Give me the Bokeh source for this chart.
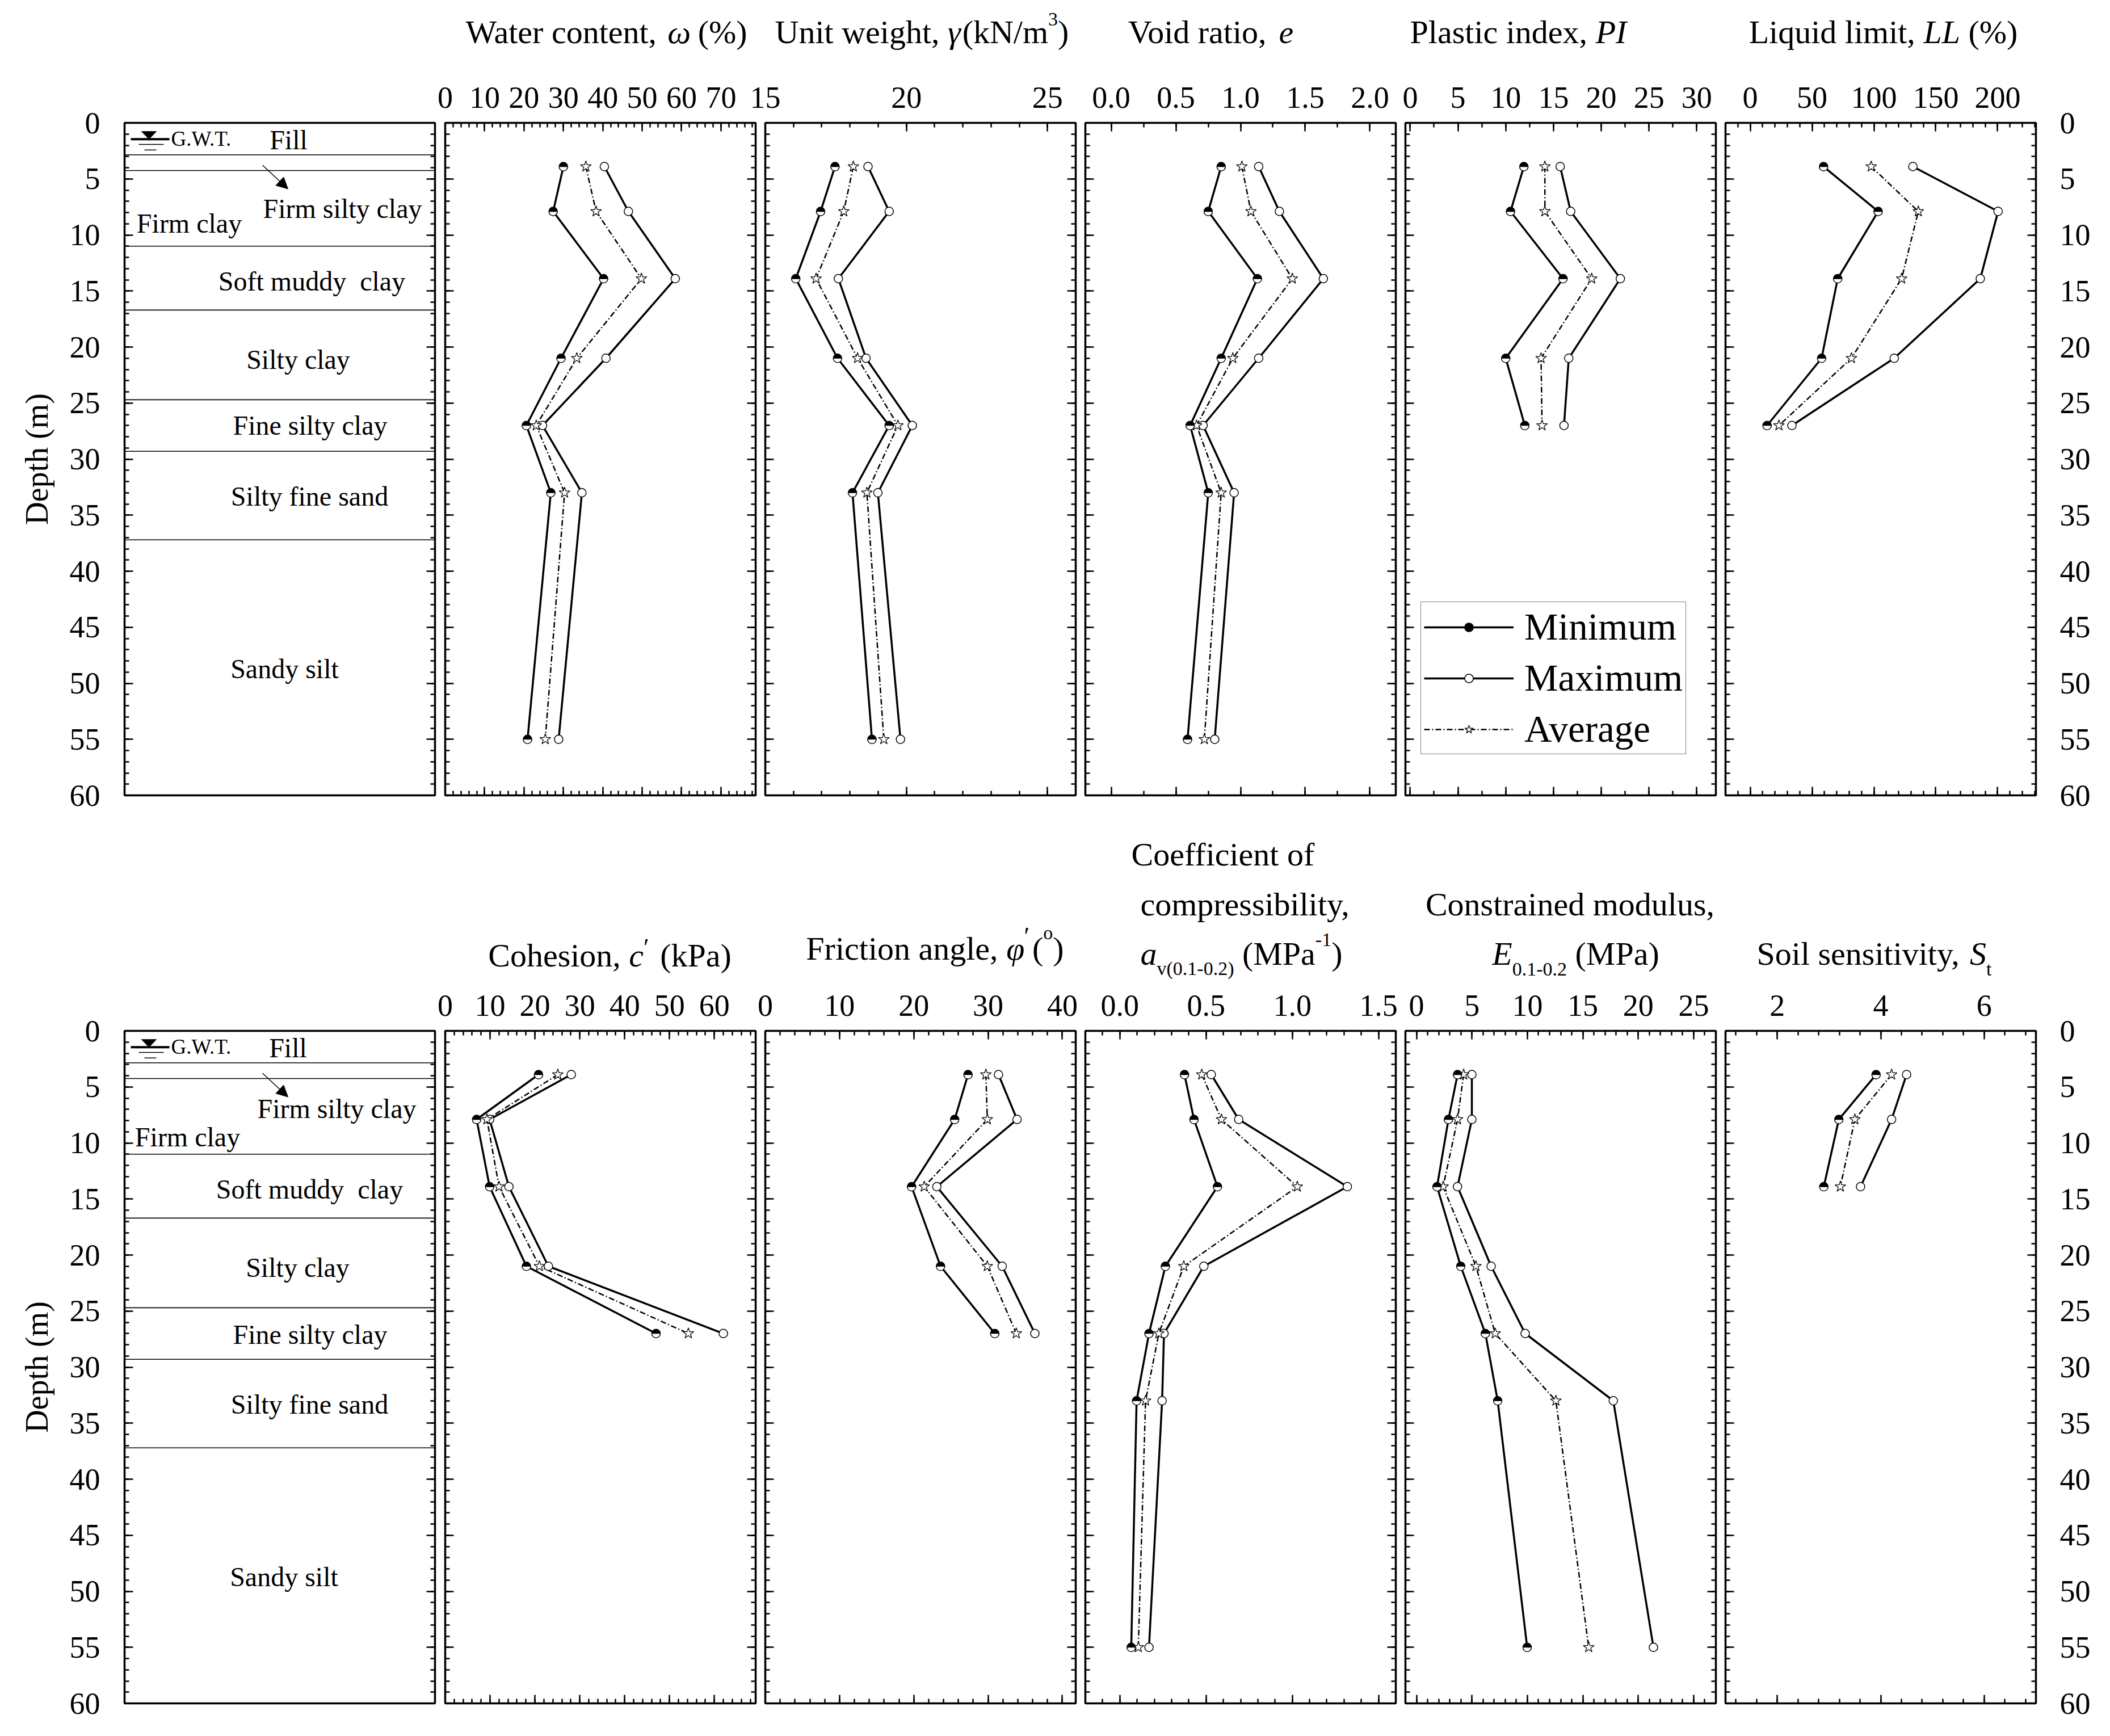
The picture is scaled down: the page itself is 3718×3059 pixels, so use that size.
import numpy as np
from bokeh.plotting import figure
from bokeh.models import (Range1d, LinearAxis, FixedTicker, PrintfTickFormatter, Span,
                          Arrow, NormalHead, Legend, LegendItem)
from bokeh.layouts import row, column
from bokeh.embed import file_html
from bokeh.resources import INLINE
from bokeh.core.properties import value

FONT = "Liberation Serif"

# ------------------------------------------------------------------ data
DEPTH_ALL = [3.9, 7.9, 13.9, 21.0, 27.0, 33.0, 55.0]
DEPTH_5 = [3.9, 7.9, 13.9, 21.0, 27.0]
DEPTH_3 = [3.9, 7.9, 13.9]

WATER_MIN = [30.0, 27.4, 40.2, 29.4, 20.6, 26.8, 20.9]
WATER_AVG = [35.7, 38.3, 49.8, 33.4, 23.1, 30.3, 25.4]
WATER_MAX = [40.4, 46.5, 58.4, 40.8, 24.7, 34.7, 28.8]

UNIT_MIN = [17.47, 16.96, 16.08, 17.56, 19.39, 18.09, 18.78]
UNIT_AVG = [18.12, 17.78, 16.80, 18.27, 19.70, 18.60, 19.20]
UNIT_MAX = [18.64, 19.39, 17.59, 18.57, 20.21, 18.99, 19.79]

VOID_MIN = [0.85, 0.75, 1.13, 0.85, 0.61, 0.75, 0.59]
VOID_AVG = [1.01, 1.08, 1.40, 0.94, 0.66, 0.85, 0.72]
VOID_MAX = [1.14, 1.30, 1.64, 1.14, 0.71, 0.95, 0.80]

PI_MIN = [11.9, 10.5, 16.0, 10.0, 12.0]
PI_AVG = [14.1, 14.1, 19.0, 13.7, 13.8]
PI_MAX = [15.7, 16.8, 22.0, 16.6, 16.1]

LL_MIN = [59.3, 103.4, 70.7, 57.7, 13.6]
LL_AVG = [97.8, 135.9, 122.4, 81.8, 23.2]
LL_MAX = [131.5, 200.4, 186.0, 116.4, 33.7]

COH_MIN = [20.8, 7.0, 9.9, 18.1, 47.0]
COH_AVG = [25.1, 9.3, 12.0, 21.0, 54.2]
COH_MAX = [28.1, 9.9, 14.2, 23.0, 62.0]

FRI_MIN = [27.3, 25.5, 19.7, 23.6, 30.9]
FRI_AVG = [29.7, 29.9, 21.4, 29.9, 33.8]
FRI_MAX = [31.4, 33.9, 23.1, 31.9, 36.3]

AV_MIN = [0.375, 0.43, 0.566, 0.264, 0.169, 0.097, 0.066]
AV_AVG = [0.475, 0.589, 1.029, 0.371, 0.226, 0.149, 0.107]
AV_MAX = [0.53, 0.689, 1.319, 0.487, 0.256, 0.245, 0.169]

ES_MIN = [3.70, 2.88, 1.85, 3.99, 6.21, 7.32, 9.98]
ES_AVG = [4.25, 3.70, 2.40, 5.36, 7.10, 12.57, 15.53]
ES_MAX = [4.99, 4.99, 3.70, 6.73, 9.80, 17.75, 21.37]

ST_MIN = [3.91, 3.19, 2.90]
ST_AVG = [4.21, 3.50, 3.22]
ST_MAX = [4.50, 4.21, 3.61]

# stratigraphy
LAYER_BOUNDS = [2.85, 4.25, 11.0, 16.7, 24.7, 29.3, 37.2]
LAYER_NAMES = ["Fill", "Firm silty clay", "Firm clay", "Soft muddy\u00a0 clay", "Silty clay",
               "Fine silty clay", "Silty fine sand", "Sandy silt"]
LAYER_X_TOP = [289, 384, 114, 330, 306, 327, 326, 282]
LAYER_D_TOP = [1.53, 7.65, 8.97, 14.13, 21.09, 26.97, 33.33, 48.69]
LAYER_X_BOT = [288, 374, 111, 326, 305, 327, 326, 281]
LAYER_D_BOT = [1.53, 6.93, 9.45, 14.13, 21.09, 27.09, 33.33, 48.69]

GWT_TRI_X = [30, 56, 43]
GWT_TRI_Y = [0.77, 0.77, 1.45]
GWT_LINES = [(11, 79, 1.45, 4), (25, 69, 1.93, 1.5), (35, 56, 2.42, 1.5)]

DEPTH_MAJOR = list(range(0, 61, 5))
DEPTH_MINOR = list(range(0, 61))

# ------------------------------------------------------------------ geometry
FW, FH = 547, 1185
OV = 30            # canvas overlap so edge tick labels are not cut
ROW_W = 3697
HDR1_H = 126       # header (titles) above top row
PT_TOP = 90        # panel border above frame (tick labels)
PB = 45            # panel border below frame
HDR2_TOP = HDR1_H + PT_TOP + FH + PB          # 1446
HDR2_H = 1816 - 85 - HDR2_TOP                 # 285
PT_BOT = 85

ROMAN = dict(zip("abcdefghijklmnopqrstuvwxyz",
                 [444, 500, 444, 500, 444, 333, 500, 500, 278, 278, 500, 278, 778, 500, 500,
                  500, 500, 333, 389, 278, 500, 500, 722, 500, 500, 444]))
ROMAN.update(dict(zip("ABCDEFGHIJKLMNOPQRSTUVWXYZ",
                      [722, 667, 667, 722, 611, 556, 722, 722, 333, 389, 722, 611, 889, 722,
                       722, 556, 722, 667, 556, 611, 722, 722, 944, 722, 722, 611])))
ROMAN.update({d: 500 for d in "0123456789"})
ROMAN.update({" ": 250, ",": 250, ".": 250, "(": 333, ")": 333, "%": 833, "/": 278, "-": 333,
              "\u2032": 330, "\u03c9": 690, "\u03b3": 450, "\u03c6": 520})
ITALIC = dict(ROMAN)
ITALIC.update({"a": 500, "c": 444, "e": 444, "t": 278, "v": 444, "E": 611, "L": 556, "P": 611,
               "I": 333, "S": 500, "\u03c9": 670, "\u03b3": 440, "\u03c6": 540})


def tw(s, size, style):
    table = ITALIC if style == "italic" else ROMAN
    return sum(table.get(ch, 500) for ch in s) / 1000.0 * size


def header(y0, h):
    p = figure(frame_width=ROW_W, frame_height=h, x_range=Range1d(0, ROW_W),
               y_range=Range1d(y0 + h, y0), x_axis_location=None, y_axis_location=None,
               toolbar_location=None, output_backend="svg", min_border=0)
    p.grid.visible = False
    p.outline_line_color = None
    p.background_fill_color = "white"
    p.border_fill_color = "white"
    return p


def rich(h, segs, cx, yc):
    """One title line made of styled pieces, centred on page x = cx, vertical position yc."""
    widths = [tw(t, sz, st) for (t, st, sz, dy) in segs]
    x = cx - sum(widths) / 2.0
    for (t, st, sz, dy), w in zip(segs, widths):
        lead = len(t) - len(t.lstrip(" "))
        txt = t.strip(" ")
        if txt:
            h.text(x=[x + tw(t[:lead], sz, st)], y=[yc - dy], text=[txt],
                   text_font=value(FONT), text_font_size=value(f"{sz}px"),
                   text_font_style=value(st), text_color="black", text_align="left",
                   text_baseline="alphabetic")
        x += w


def base_fig(xr, bl, br, bt, bb, margin=None):
    kw = {}
    if margin is not None:
        kw["margin"] = margin
    p = figure(frame_width=FW, frame_height=FH, x_range=Range1d(*xr), y_range=Range1d(60, 0),
               x_axis_location=None, y_axis_location=None, toolbar_location=None,
               output_backend="svg", min_border_left=bl, min_border_right=br,
               min_border_top=bt, min_border_bottom=bb, **kw)
    p.grid.visible = False
    p.outline_line_color = "black"
    p.outline_line_width = 3.5
    p.outline_line_alpha = 1.0
    p.background_fill_color = "white"
    p.border_fill_color = None
    return p


def add_axis(p, loc, major, minor, labels=False, fmt=None, standoff=26, tin=15, mtin=8,
             axis_label=None):
    ax = LinearAxis(ticker=FixedTicker(ticks=major, minor_ticks=minor))
    ax.axis_line_color = None
    ax.major_tick_in = tin
    ax.major_tick_out = 0
    ax.minor_tick_in = mtin
    ax.minor_tick_out = 0
    ax.major_tick_line_width = 2.5
    ax.minor_tick_line_width = 2.5
    ax.major_tick_line_color = "black"
    ax.minor_tick_line_color = "black"
    if labels:
        ax.major_label_text_font = FONT
        ax.major_label_text_font_size = "54px"
        ax.major_label_text_color = "black"
        ax.major_label_standoff = standoff
        if fmt:
            ax.formatter = PrintfTickFormatter(format=fmt)
    else:
        # tick marks only: labels are not drawn at all
        ax.major_label_text_font_size = "1px"
        ax.major_label_text_color = None
        ax.major_label_standoff = 0
    if axis_label:
        ax.axis_label = axis_label
        ax.axis_label_text_font = FONT
        ax.axis_label_text_font_size = "56px"
        ax.axis_label_text_font_style = "normal"
        ax.axis_label_text_color = "black"
        ax.axis_label_standoff = 24
    p.add_layout(ax, loc)
    return ax


def add_series(p, depth, vmin, vavg, vmax):
    lmin = p.line(vmin, depth, line_color="black", line_width=3.5)
    lmax = p.line(vmax, depth, line_color="black", line_width=3.5)
    lavg = p.line(vavg, depth, line_color="black", line_width=2.5, line_dash="10 4 2 4")
    cmax = p.scatter(vmax, depth, marker="circle", size=15, fill_color="white",
                     line_color="black", line_width=1.5)
    cavg = p.scatter(vavg, depth, marker="star", size=20, fill_color="white",
                     line_color="black", line_width=1.3)
    cmin = p.scatter(vmin, depth, marker="circle", size=15, fill_color="black",
                     line_color="black", line_width=1.5)
    p.wedge(vmin, depth, radius=7.5, radius_units="screen", start_angle=np.pi,
            end_angle=2 * np.pi, fill_color="white", line_color="black", line_width=1.2)
    return lmin, lmax, lavg, cmin, cmax, cavg


def make_strat(top_border, xs, ds):
    p = base_fig((0, FW), 219, 9, top_border, PB)
    add_axis(p, "left", DEPTH_MAJOR, DEPTH_MINOR, labels=True, standoff=43,
             axis_label="Depth (m)")
    add_axis(p, "right", DEPTH_MAJOR, DEPTH_MINOR)
    for d in LAYER_BOUNDS:
        p.add_layout(Span(location=d, dimension="width", line_color="black", line_width=1.6))
    p.text(x=xs, y=ds, text=LAYER_NAMES, text_font=value(FONT), text_font_size=value("48px"),
           text_align="center", text_baseline="alphabetic", text_color="black")
    p.patch(GWT_TRI_X, GWT_TRI_Y, fill_color="black", line_color="black")
    for x0, x1, d, lw in GWT_LINES:
        p.segment(x0=[x0], y0=[d], x1=[x1], y1=[d], line_color="black", line_width=lw)
    p.text(x=[82], y=[1.4], text=["G.W.T."], text_font=value(FONT),
           text_font_size=value("37px"), text_align="left", text_baseline="alphabetic",
           text_color="black")
    p.add_layout(Arrow(end=NormalHead(size=20, fill_color="black", line_color="black",
                                      line_width=1),
                       x_start=243, y_start=3.77, x_end=288, y_end=5.9,
                       line_color="black", line_width=1.5))
    return p


def make_panel(xr, major, minor, fmt, top_border, last=False):
    if last:
        p = base_fig(xr, 9 + OV, 110, top_border, PB, margin=(0, 0, 0, -OV))
        add_axis(p, "right", DEPTH_MAJOR, DEPTH_MINOR, labels=True, standoff=42)
    else:
        p = base_fig(xr, 9 + OV, 8 + OV, top_border, PB, margin=(0, -OV, 0, -OV))
        add_axis(p, "right", DEPTH_MAJOR, DEPTH_MINOR)
    add_axis(p, "left", DEPTH_MAJOR, DEPTH_MINOR)
    add_axis(p, "above", major, minor, labels=True, fmt=fmt, standoff=27)
    add_axis(p, "below", major, minor)
    return p


def rng(a, b, s):
    return [round(v, 4) for v in np.arange(a, b + s / 2.0, s)]


N, I = "normal", "italic"
TS, SS = 58, 34

# ------------------------------------------------------------------ top row
h_top = header(0, HDR1_H)
rich(h_top, [("Water content, ", N, TS, 0), ("\u03c9", I, TS, 0), (" (%)", N, TS, 0)],
     1068, 56)
rich(h_top, [("Unit weight, ", N, TS, 0), ("\u03b3", I, TS, 0), ("(kN/m", N, TS, 0),
             ("3", N, SS, 23), (")", N, TS, 0)], 1624, 56)
rich(h_top, [("Void ratio, ", N, TS, 0), ("e", I, TS, 0)], 2133, 56)
rich(h_top, [("Plastic index, ", N, TS, 0), ("PI", I, TS, 0)], 2675, 56)
rich(h_top, [("Liquid limit, ", N, TS, 0), ("LL", I, TS, 0), (" (%)", N, TS, 0)], 3318, 56)

s_top = make_strat(PT_TOP, LAYER_X_TOP, LAYER_D_TOP)

p_w = make_panel((0, 78.8), rng(0, 70, 10), rng(0, 78, 2), None, PT_TOP)
add_series(p_w, DEPTH_ALL, WATER_MIN, WATER_AVG, WATER_MAX)

p_u = make_panel((15, 26), [15, 20, 25], rng(15, 26, 1), None, PT_TOP)
add_series(p_u, DEPTH_ALL, UNIT_MIN, UNIT_AVG, UNIT_MAX)

p_v = make_panel((-0.2, 2.2), [0, 0.5, 1.0, 1.5, 2.0], rng(0, 2.0, 0.25), "%.1f", PT_TOP)
add_series(p_v, DEPTH_ALL, VOID_MIN, VOID_AVG, VOID_MAX)

p_pi = make_panel((-0.5, 32), rng(0, 30, 5), rng(0, 32, 2.5), None, PT_TOP)
r_pi = add_series(p_pi, DEPTH_5, PI_MIN, PI_AVG, PI_MAX)

legend = Legend(items=[LegendItem(label="Minimum", renderers=[r_pi[0], r_pi[3]]),
                       LegendItem(label="Maximum", renderers=[r_pi[1], r_pi[4]]),
                       LegendItem(label="Average", renderers=[r_pi[2], r_pi[5]])],
                location=(27, 72))
legend.label_text_font = FONT
legend.label_text_font_size = "67px"
legend.label_text_color = "black"
legend.glyph_width = 158
legend.glyph_height = 38
legend.label_standoff = 19
legend.padding = 5
legend.spacing = 13
legend.margin = 0
legend.border_line_color = "black"
legend.border_line_width = 1.5
legend.background_fill_color = "white"
legend.background_fill_alpha = 1.0
p_pi.add_layout(legend)

p_ll = make_panel((-20, 231), [0, 50, 100, 150, 200], rng(-20, 230, 10), None, PT_TOP,
                  last=True)
add_series(p_ll, DEPTH_5, LL_MIN, LL_AVG, LL_MAX)

# ------------------------------------------------------------------ bottom row
h_bot = header(HDR2_TOP, HDR2_H)
rich(h_bot, [("Cohesion, ", N, TS, 0), ("c", I, TS, 0), ("\u2032", N, 44, 14),
             (" (kPa)", N, TS, 0)], 1074, 1683)
rich(h_bot, [("Friction angle, ", N, TS, 0), ("\u03c6", I, TS, 0), ("\u2032", N, 44, 22),
             ("(", N, TS, 0), ("o", N, SS, 28), (")", N, TS, 0)], 1647, 1671)
rich(h_bot, [("Coefficient of", N, TS, 0)], 2155, 1505)
rich(h_bot, [("compressibility,", N, TS, 0)], 2195, 1593)
rich(h_bot, [("a", I, TS, 0), ("v(0.1-0.2)", N, SS, -26), (" (MPa", N, TS, 0),
             ("-1", N, SS, 25), (")", N, TS, 0)], 2187, 1680)
rich(h_bot, [("Constrained modulus,", N, TS, 0)], 2766, 1593)
rich(h_bot, [("E", I, TS, 0), ("0.1-0.2", N, SS, -27), (" (MPa)", N, TS, 0)], 2776, 1680)
rich(h_bot, [("Soil sensitivity, ", N, TS, 0), ("S", I, TS, 0), ("t", N, SS, -27)],
     3302, 1680)

s_bot = make_strat(PT_BOT, LAYER_X_BOT, LAYER_D_BOT)

p_c = make_panel((0, 69.2), rng(0, 60, 10), rng(0, 68, 2), None, PT_BOT)
add_series(p_c, DEPTH_5, COH_MIN, COH_AVG, COH_MAX)

p_f = make_panel((0, 41.8), rng(0, 40, 10), rng(0, 40, 2), None, PT_BOT)
add_series(p_f, DEPTH_5, FRI_MIN, FRI_AVG, FRI_MAX)

p_a = make_panel((-0.2, 1.6), [0, 0.5, 1.0, 1.5], rng(-0.2, 1.6, 0.1), "%.1f", PT_BOT)
add_series(p_a, DEPTH_ALL, AV_MIN, AV_AVG, AV_MAX)

p_e = make_panel((-1, 27), rng(0, 25, 5), rng(-1, 27, 1), None, PT_BOT)
add_series(p_e, DEPTH_ALL, ES_MIN, ES_AVG, ES_MAX)

p_s = make_panel((1, 7), [2, 4, 6], rng(1.2, 6.8, 0.4), None, PT_BOT, last=True)
add_series(p_s, DEPTH_3, ST_MIN, ST_AVG, ST_MAX)

layout = column(h_top,
                row(s_top, p_w, p_u, p_v, p_pi, p_ll),
                h_bot,
                row(s_bot, p_c, p_f, p_a, p_e, p_s))

open("out.html", "w").write(file_html(layout, INLINE, title="Soil profile"))
